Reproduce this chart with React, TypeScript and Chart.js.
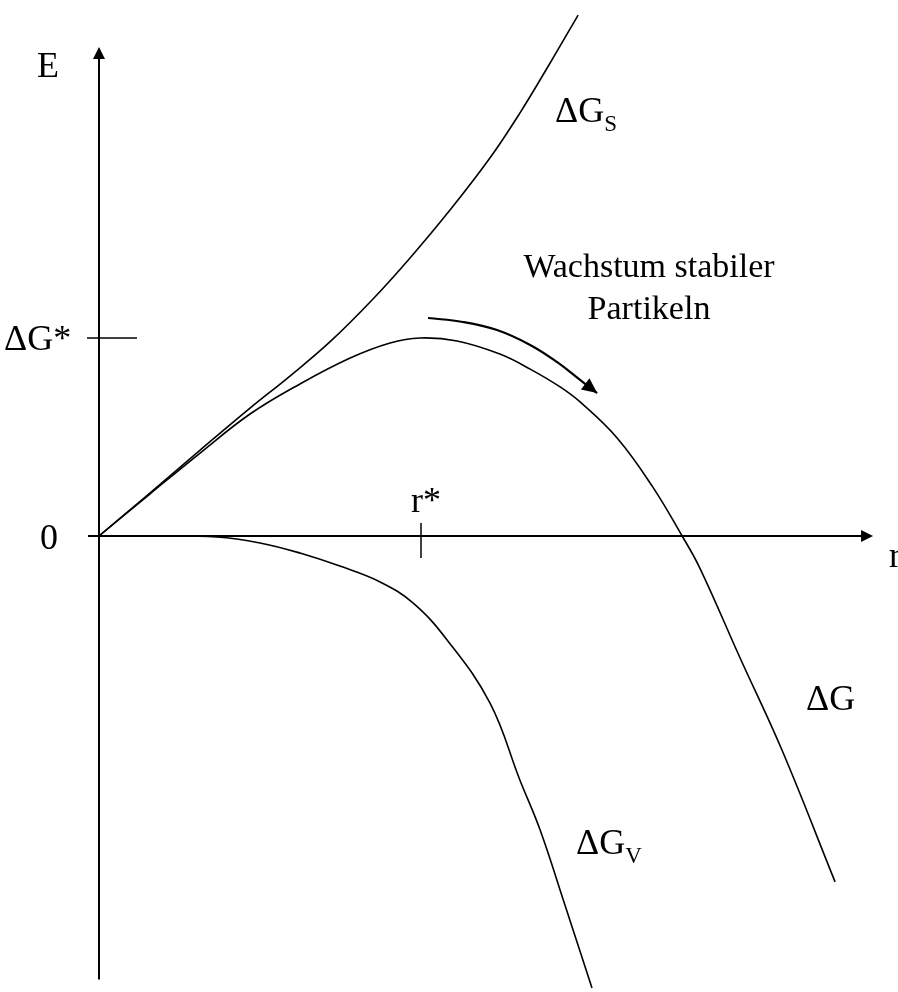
import React, { useEffect, useRef } from "react";
import { Chart, registerables } from "chart.js";

Chart.register(...registerables);

// r in units of r*, E in units of ΔG*
const gsX = [0, 0.158, 0.314, 0.469, 0.593, 0.717, 0.851, 0.966, 1.09, 1.214, 1.307, 1.401, 1.488];
const gsY = [0, 0.217, 0.434, 0.646, 0.808, 0.98, 1.197, 1.404, 1.646, 1.909, 2.136, 2.389, 2.631];

const gX = [0, 0.158, 0.314, 0.469, 0.624, 0.78, 0.904, 0.997, 1.112, 1.245, 1.339, 1.432, 1.494, 1.609, 1.72, 1.811, 1.866, 1.991, 2.121, 2.286];
const gY = [0, 0.212, 0.419, 0.616, 0.768, 0.899, 0.975, 1.0, 0.985, 0.919, 0.843, 0.753, 0.677, 0.495, 0.247, 0, -0.162, -0.616, -1.081, -1.747];

const gvX = [0, 0.158, 0.366, 0.5, 0.624, 0.748, 0.873, 0.975, 1.081, 1.214, 1.307, 1.37, 1.447, 1.531];
const gvY = [0, 0, -0.005, -0.035, -0.086, -0.152, -0.232, -0.338, -0.525, -0.843, -1.232, -1.485, -1.864, -2.283];

const arrowX = [1.022, 1.13, 1.236, 1.339, 1.422, 1.494, 1.547];
const arrowY = [1.101, 1.081, 1.04, 0.965, 0.879, 0.788, 0.722];

const rStar = 1;
const gStar = 1;

const FONT = '"Liberation Serif", "Times New Roman", serif';

function pts(xs: number[], ys: number[]) {
  return xs.map((x, i) => ({ x, y: ys[i] }));
}

function drawArrowHead(ctx: CanvasRenderingContext2D, x1: number, y1: number, x2: number, y2: number, len: number, half: number) {
  const a = Math.atan2(y2 - y1, x2 - x1);
  ctx.beginPath();
  ctx.moveTo(x2, y2);
  ctx.lineTo(x2 - len * Math.cos(a) + half * Math.sin(a), y2 - len * Math.sin(a) - half * Math.cos(a));
  ctx.lineTo(x2 - len * Math.cos(a) - half * Math.sin(a), y2 - len * Math.sin(a) + half * Math.cos(a));
  ctx.closePath();
  ctx.fill();
}

const overlay = {
  id: "overlay",
  afterDatasetsDraw(chart: any) {
    const ctx: CanvasRenderingContext2D = chart.ctx;
    const xs = chart.scales.x;
    const ys = chart.scales.y;
    const X = (v: number) => xs.getPixelForValue(v);
    const Y = (v: number) => ys.getPixelForValue(v);
    ctx.save();
    ctx.strokeStyle = "#000";
    ctx.fillStyle = "#000";
    ctx.lineWidth = 2;
    // y axis
    const x0 = X(0);
    const y0 = Y(0);
    ctx.beginPath();
    ctx.moveTo(x0, Y(-2.24));
    ctx.lineTo(x0, Y(2.42));
    ctx.stroke();
    drawArrowHead(ctx, x0, Y(0), x0, Y(2.47), 12, 6);
    // x axis
    ctx.beginPath();
    ctx.moveTo(X(-0.034), y0);
    ctx.lineTo(X(2.37), y0);
    ctx.stroke();
    drawArrowHead(ctx, X(0), y0, X(2.404), y0, 12, 6);
    // r* tick
    ctx.lineWidth = 1.5;
    ctx.beginPath();
    ctx.moveTo(X(rStar), y0 - 13);
    ctx.lineTo(X(rStar), y0 + 22);
    ctx.stroke();
    // ΔG* tick
    ctx.beginPath();
    ctx.moveTo(x0 - 12, Y(gStar));
    ctx.lineTo(x0 + 38, Y(gStar));
    ctx.stroke();
    // arrow head on curved arrow
    const n = arrowX.length;
    drawArrowHead(ctx, X(arrowX[n - 2]), Y(arrowY[n - 2]), X(arrowX[n - 1]), Y(arrowY[n - 1]), 15, 7);

    // labels
    ctx.textBaseline = "alphabetic";
    ctx.font = `36px ${FONT}`;
    ctx.textAlign = "left";
    ctx.fillText("E", 37, 77);
    ctx.fillText("0", 40, 549);
    ctx.fillText("r*", 411, 512);
    ctx.fillText("r", 889, 567);
    ctx.fillText("ΔG*", 4, 350);

    const sub = (main: string, s: string, x: number, y: number) => {
      ctx.font = `36px ${FONT}`;
      ctx.fillText(main, x, y);
      const w = ctx.measureText(main).width;
      ctx.font = `23px ${FONT}`;
      ctx.fillText(s, x + w, y + 9);
    };
    sub("ΔG", "S", 555, 122);
    sub("ΔG", "V", 576, 854);
    ctx.font = `36px ${FONT}`;
    ctx.fillText("ΔG", 806, 710);

    ctx.font = `34px ${FONT}`;
    ctx.textAlign = "center";
    ctx.fillText("Wachstum stabiler", 649, 277);
    ctx.fillText("Partikeln", 649, 319);
    ctx.restore();
  },
};

export default function App() {
  const ref = useRef<HTMLCanvasElement | null>(null);
  useEffect(() => {
    if (!ref.current) return;
    const line = (label: string, data: any[], w: number) => ({
      label,
      data,
      borderColor: "#000",
      borderWidth: w,
      pointRadius: 0,
      fill: false,
      tension: 0.4,
    });
    const chart = new Chart(ref.current, {
      type: "line",
      data: {
        datasets: [
          line("ΔG_S", pts(gsX, gsY), 1.6),
          line("ΔG", pts(gX, gY), 1.6),
          line("ΔG_V", pts(gvX, gvY), 1.6),
          line("Wachstum", pts(arrowX, arrowY), 2.2),
        ],
      },
      options: {
        animation: false,
        responsive: false,
        maintainAspectRatio: false,
        layout: { padding: 0 },
        scales: {
          x: { type: "linear", min: -99 / 322, max: (898 - 99) / 322, display: false },
          y: { type: "linear", min: (536 - 992) / 198, max: 536 / 198, display: false },
        },
        plugins: { legend: { display: false }, tooltip: { enabled: false } },
      },
      plugins: [overlay],
    });
    return () => chart.destroy();
  }, []);
  return (
    <div style={{ position: "fixed", left: 0, top: 0, width: 898, height: 992, background: "#fff" }}>
      <canvas ref={ref} width={898} height={992} />
    </div>
  );
}
